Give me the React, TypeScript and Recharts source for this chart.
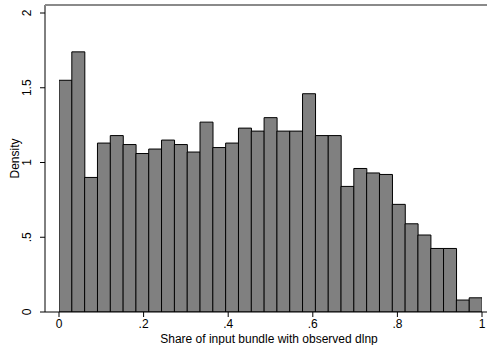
import { BarChart, Bar, XAxis, YAxis } from 'recharts'

// 33 equal-width bins over [0, 1], placed at bin midpoints
const binMids = Array.from({ length: 33 }, (_, i) => (i + 0.5) / 33)
const densities = [
  1.55, 1.74, 0.9, 1.13, 1.18, 1.12, 1.06, 1.09, 1.15, 1.12, 1.07,
  1.27, 1.1, 1.13, 1.23, 1.21, 1.3, 1.21, 1.21, 1.46, 1.18, 1.18,
  0.84, 0.96, 0.93, 0.92, 0.72, 0.59, 0.515, 0.425, 0.425, 0.08, 0.095,
]
const xTicks = [0, 0.2, 0.4, 0.6, 0.8, 1]
const yTicks = [0, 0.5, 1, 1.5, 2]

const data = binMids.map((m, i) => ({ mid: m, density: densities[i] }))

const font = '"Liberation Sans", Arial, Helvetica, sans-serif'
const fmt = (v: number) => String(v).replace(/^0\./, '.')

const YTick = (props: any) => {
  const { x, y, payload } = props
  const tx = x - 7
  return (
    <text
      x={tx}
      y={y}
      transform={`rotate(-90, ${tx}, ${y})`}
      textAnchor="middle"
      fontSize={12}
      fontFamily={font}
      fill="#000"
    >
      {fmt(payload.value)}
    </text>
  )
}

const DensityLabel = (props: any) => {
  const { viewBox } = props
  const cy = viewBox.y + viewBox.height / 2
  return (
    <text
      x={19}
      y={cy}
      transform={`rotate(-90, 19, ${cy})`}
      textAnchor="middle"
      fontSize={12}
      fontFamily={font}
      fill="#000"
    >
      Density
    </text>
  )
}

const ShareLabel = (props: any) => {
  const { viewBox } = props
  return (
    <text
      x={viewBox.x + viewBox.width / 2 + 3}
      y={343}
      textAnchor="middle"
      fontSize={12}
      fontFamily={font}
      fill="#000"
    >
      Share of input bundle with observed dlnp
    </text>
  )
}

const DensityHistogram = () => {
  return (
    <div style={{ position: 'absolute', left: 0, top: 0, background: '#fff' }}>
      <BarChart
        width={487}
        height={345}
        data={data}
        margin={{ top: 5, right: 0, left: 0, bottom: 0 }}
        barCategoryGap={0}
        barGap={0}
      >
        <XAxis
          dataKey="mid"
          type="number"
          domain={[0, 1]}
          allowDataOverflow
          ticks={xTicks}
          tickFormatter={fmt}
          padding={{ left: 14, right: 5 }}
          height={33}
          axisLine={{ stroke: '#000' }}
          tickLine={{ stroke: '#000' }}
          tickSize={5}
          tick={{ fontSize: 12, fill: '#000', fontFamily: font }}
          label={<ShareLabel />}
        />
        <YAxis
          domain={[0, 2]}
          ticks={yTicks}
          width={45}
          padding={{ top: 8, bottom: 0 }}
          allowDataOverflow
          axisLine={{ stroke: '#000' }}
          tickLine={{ stroke: '#000' }}
          tickSize={5}
          tick={<YTick />}
          label={<DensityLabel />}
        />
        <Bar
          dataKey="density"
          fill="#808080"
          stroke="#000"
          strokeWidth={1}
          isAnimationActive={false}
        />
      </BarChart>
      <div style={{ position: 'absolute', left: 45, top: 4, width: 442, height: 2, background: '#8a8a8a' }} />
    </div>
  )
}

export default function App() {
  return <DensityHistogram />
}
